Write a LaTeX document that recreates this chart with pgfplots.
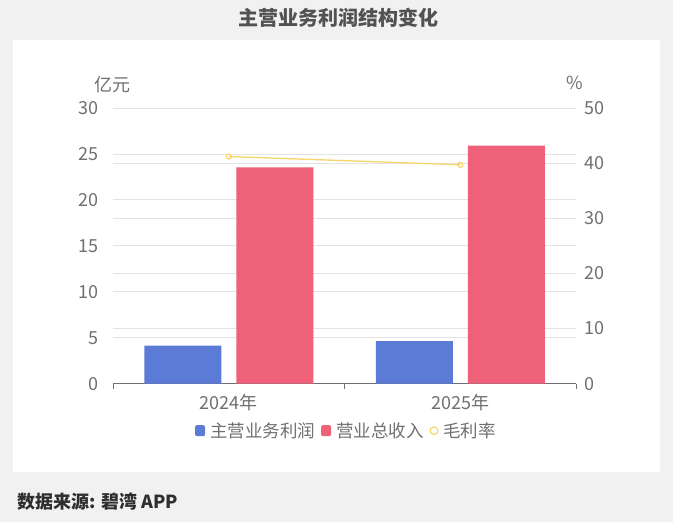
\documentclass[border=0pt]{standalone}
\usepackage{pgfplots}
\pgfplotsset{compat=1.18}
\usepackage{fontspec}
\setmainfont{Noto Sans CJK SC}
\definecolor{bgc}{HTML}{F1F1F1}
\definecolor{bluec}{HTML}{5B7BD7}
\definecolor{redc}{HTML}{EF6079}
\definecolor{yelc}{HTML}{F6D56A}
\definecolor{txt}{HTML}{707070}
\definecolor{gridc}{HTML}{E3E3E3}
\definecolor{axc}{HTML}{6E7079}
\begin{document}
\begin{tikzpicture}
\fill[bgc] (0pt,0pt) rectangle (673pt,522pt);
\fill[white] (13pt,50pt) rectangle (660pt,482pt);
\node[font=\fontsize{20}{20}\selectfont\bfseries, text=black!68] at (338pt,504pt) {主营业务利润结构变化};
\node[font=\fontsize{18}{18}\selectfont\bfseries, text=black!82, anchor=west] at (14pt,20.5pt) {数据来源: 碧湾 APP};
\begin{axis}[
  at={(113pt,138.3pt)}, anchor=south west,
  width=463pt, height=275.7pt, scale only axis,
  xmin=-0.5, xmax=1.5, ymin=0, ymax=50,
  axis x line=none, axis y line*=right,
  y axis line style={draw=none},
  ytick={10,20,...,50},
  ytick style={draw=none},
  extra y ticks={0}, extra y tick style={grid=none},
  ymajorgrids, grid style={gridc, line width=0.8pt},
  /pgf/number format/assume math mode=true,
  ticklabel style={font=\fontsize{18}{18}\selectfont, text=txt},
  yticklabel style={anchor=west, inner sep=0pt, xshift=8pt},
  ylabel={\%},
  every axis y label/.style={at={(rel axis cs:1,1)}, anchor=center, yshift=25pt, xshift=-1pt, font=\fontsize{18}{18}\selectfont, text=txt},
]
\end{axis}
\begin{axis}[
  at={(113pt,138.3pt)}, anchor=south west,
  width=463pt, height=275.7pt, scale only axis,
  xmin=-0.5, xmax=1.5, ymin=0, ymax=30,
  axis x line*=bottom, axis y line*=left,
  y axis line style={draw=none},
  x axis line style={axc, line width=0.8pt},
  ytick={5,10,...,30},
  extra y ticks={0}, extra y tick style={grid=none},
  ytick style={draw=none},
  xtick={-0.5,0.5,1.5}, xticklabels={},
  xtick style={draw=axc, line width=0.8pt},
  major tick length=5pt, tick align=outside,
  extra x ticks={0,1}, extra x tick labels={2024年,2025年},
  extra x tick style={major tick length=0pt, grid=none},
  ymajorgrids, xmajorgrids=false, grid style={gridc, line width=0.8pt},
  /pgf/number format/assume math mode=true,
  ticklabel style={font=\fontsize{18}{18}\selectfont, text=txt},
  yticklabel style={anchor=east, inner sep=0pt, xshift=-9pt},
  xticklabel style={anchor=center, inner sep=0pt, yshift=-19pt},
  ylabel={亿元},
  every axis y label/.style={at={(rel axis cs:0,1)}, anchor=center, yshift=23pt, xshift=-1pt, font=\fontsize{18}{18}\selectfont, text=txt},
  legend columns=3,
  legend style={draw=none, fill=none, at={(rel axis cs:0.5,0)}, anchor=center, yshift=-47pt, xshift=1pt,
    font=\fontsize{17.5}{17.5}\selectfont, text=txt, nodes={inner xsep=0pt, inner ysep=1pt},
    /tikz/every odd column/.append style={column sep=5pt},
    /tikz/every even column/.append style={column sep=6pt}},
  legend cell align=left,
]
\addplot[ybar, bar width=77pt, bar shift=-46pt, fill=bluec, draw=none,
  legend image code/.code={\fill[bluec, rounded corners=2pt] (0pt,-5.5pt) rectangle (10pt,5.5pt);}]
  coordinates {(0,4.13) (1,4.64)};
\addlegendentry{主营业务利润}
\addplot[ybar, bar width=77pt, bar shift=46pt, fill=redc, draw=none,
  legend image code/.code={\fill[redc, rounded corners=2pt] (0pt,-5.5pt) rectangle (10pt,5.5pt);}]
  coordinates {(0,23.54) (1,25.9)};
\addlegendentry{营业总收入}
\addlegendimage{legend image code/.code={\draw[yelc, line width=1.2pt, fill=white] (5pt,0pt) circle (3.8pt);}}
\addlegendentry{毛利率}
\end{axis}
\begin{axis}[
  at={(113pt,138.3pt)}, anchor=south west,
  width=463pt, height=275.7pt, scale only axis,
  xmin=-0.5, xmax=1.5, ymin=0, ymax=50,
  axis lines=none,
]
\addplot[yelc, line width=1.3pt, mark=o, mark size=2.6pt, mark options={fill=white, line width=1.1pt}]
  coordinates {(0,41.2) (1,39.7)};
\end{axis}
\end{tikzpicture}
\end{document}
